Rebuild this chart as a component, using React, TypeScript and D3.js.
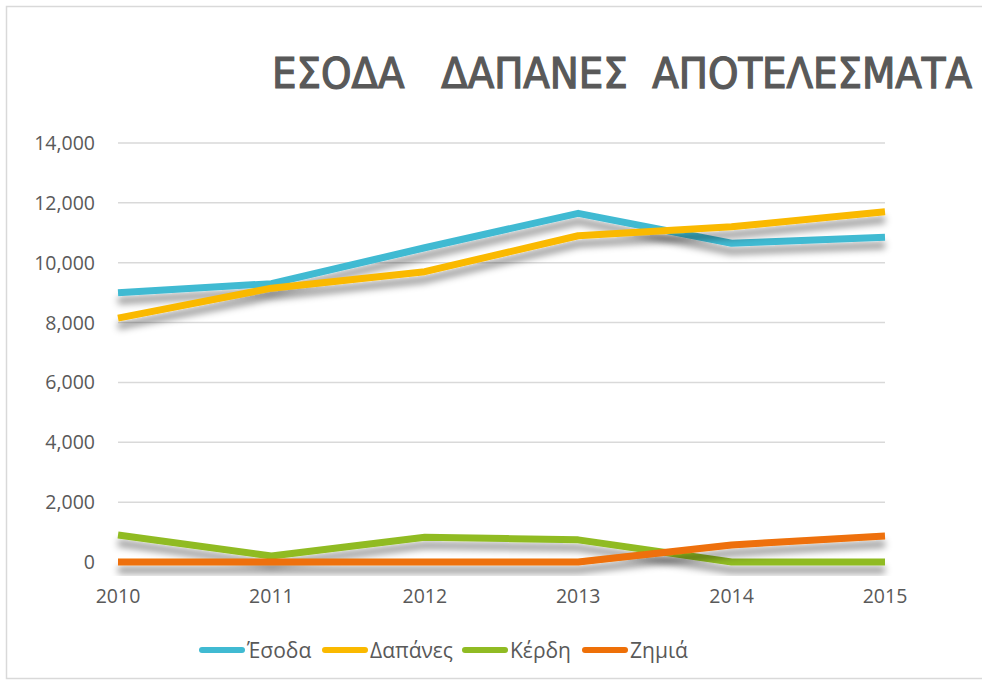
import React, { useEffect, useRef } from 'react';
import * as d3 from 'd3';

const years = ['2010', '2011', '2012', '2013', '2014', '2015'];
const esoda = [9000, 9300, 10500, 11650, 10650, 10850];
const dapanes = [8150, 9150, 9700, 10900, 11200, 11700];
const kerdi = [900, 200, 830, 740, 0, 0];
const zimia = [0, 0, 0, 0, 570, 870];
const seriesNames = ['Έσοδα', 'Δαπάνες', 'Κέρδη', 'Ζημιά'];
const seriesColors = ['#40bad2', '#fab900', '#90bb23', '#ee7008'];
const yTicks = [0, 2000, 4000, 6000, 8000, 10000, 12000, 14000];

const W = 982;
const H = 684;

export default function App() {
  const ref = useRef<SVGSVGElement>(null);

  useEffect(() => {
    const svg = d3.select(ref.current);
    svg.selectAll('*').remove();

    const defs = svg.append('defs');
    const f = defs.append('filter').attr('id', 'shadow')
      .attr('x', '-10%').attr('y', '-50%').attr('width', '120%').attr('height', '200%');
    f.append('feDropShadow')
      .attr('dx', 0).attr('dy', 8).attr('stdDeviation', 3.5)
      .attr('flood-color', '#000').attr('flood-opacity', 0.4);

    svg.append('rect')
      .attr('x', 6.5).attr('y', 6.5).attr('width', 1000).attr('height', 672)
      .attr('fill', '#fff').attr('stroke', '#d9d9d9').attr('stroke-width', 1.5);

    // title
    svg.append('text')
      .attr('x', 272).attr('y', 88)
      .attr('font-family', 'DejaVu Sans Condensed, sans-serif')
      .attr('font-size', 42)
      .attr('fill', '#595959')
      .attr('stroke', '#595959')
      .attr('stroke-width', 1.2)
      .attr('textLength', 700)
      .attr('lengthAdjust', 'spacingAndGlyphs')
      .attr('xml:space', 'preserve')
      .text('ΕΣΟΔΑ   ΔΑΠΑΝΕΣ  ΑΠΟΤΕΛΕΣΜΑΤΑ');

    const x = d3.scalePoint().domain(years).range([118, 885]);
    const y = d3.scaleLinear().domain([0, 14000]).range([562, 143]);

    const grid = svg.append('g');
    grid.selectAll('line').data(yTicks.filter(d => d > 0)).enter().append('line')
      .attr('x1', 118).attr('x2', 885)
      .attr('y1', d => y(d)).attr('y2', d => y(d))
      .attr('stroke', '#d9d9d9').attr('stroke-width', 1.5);

    svg.append('g').selectAll('text').data(yTicks).enter().append('text')
      .attr('x', 95).attr('y', d => y(d) + 7)
      .attr('text-anchor', 'end')
      .attr('font-family', 'Open Sans, sans-serif')
      .attr('font-size', 19.5)
      .attr('fill', '#595959')
      .text(d => d3.format(',')(d));

    svg.append('g').selectAll('text').data(years).enter().append('text')
      .attr('x', d => x(d)!).attr('y', 603)
      .attr('text-anchor', 'middle')
      .attr('font-family', 'Open Sans, sans-serif')
      .attr('font-size', 19.5)
      .attr('fill', '#595959')
      .text(d => d);

    const allSeries = [esoda, dapanes, kerdi, zimia];
    const line = d3.line<number>().x((d, i) => x(years[i])!).y(d => y(d));

    allSeries.forEach((s, i) => {
      svg.append('path')
        .attr('d', line(s)!)
        .attr('fill', 'none')
        .attr('stroke', seriesColors[i])
        .attr('stroke-width', 7)
        .attr('stroke-linejoin', 'round')
        .attr('filter', 'url(#shadow)');
    });

    const legendX = [199, 322, 462, 582];
    const lg = svg.append('g');
    seriesNames.forEach((name, i) => {
      lg.append('line')
        .attr('x1', legendX[i] + 3).attr('x2', legendX[i] + 43)
        .attr('y1', 650).attr('y2', 650)
        .attr('stroke', seriesColors[i]).attr('stroke-width', 6)
        .attr('stroke-linecap', 'round');
      lg.append('text')
        .attr('x', legendX[i] + 48).attr('y', 658)
        .attr('font-family', 'Open Sans, sans-serif')
        .attr('font-size', 21)
        .attr('fill', '#595959')
        .text(name);
    });
  }, []);

  return (
    <svg ref={ref} width={W} height={H}
      style={{ position: 'absolute', left: 0, top: 0, background: '#fff' }} />
  );
}
